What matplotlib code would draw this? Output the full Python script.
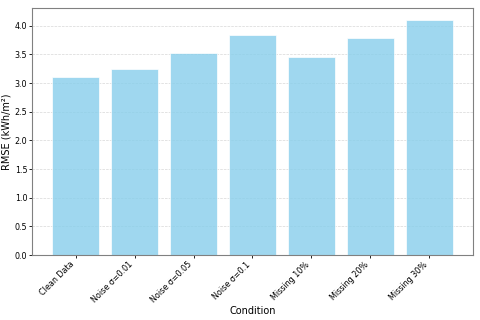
import matplotlib
matplotlib.use("Agg")
import matplotlib.pyplot as plt

conditions = ["Clean Data", "Noise σ=0.01", "Noise σ=0.05", "Noise σ=0.1",
              "Missing 10%", "Missing 20%", "Missing 30%"]
rmse = [3.11, 3.25, 3.52, 3.84, 3.45, 3.78, 4.10]

fig, ax = plt.subplots(figsize=(4.8, 3.2), dpi=100)
ax.bar(conditions, rmse, color="skyblue", alpha=0.8, edgecolor="white", linewidth=0.6)
ax.set_xlabel("Condition", fontsize=7, labelpad=1)
ax.set_ylabel("RMSE (kWh/m²)", fontsize=7, labelpad=2)
ax.tick_params(axis="both", labelsize=5.8, width=0.6, length=2, pad=1.5)
plt.setp(ax.get_xticklabels(), rotation=45, ha="right")
ax.grid(axis="y", linestyle="--", alpha=0.5, linewidth=0.5)
ax.set_axisbelow(True)
for s in ax.spines.values():
    s.set_color("gray")
    s.set_linewidth(0.8)
ax.set_ylim(0, 4.31)
fig.subplots_adjust(left=0.067, right=0.985, top=0.975, bottom=0.203)
fig.savefig("out.png", dpi=100)
